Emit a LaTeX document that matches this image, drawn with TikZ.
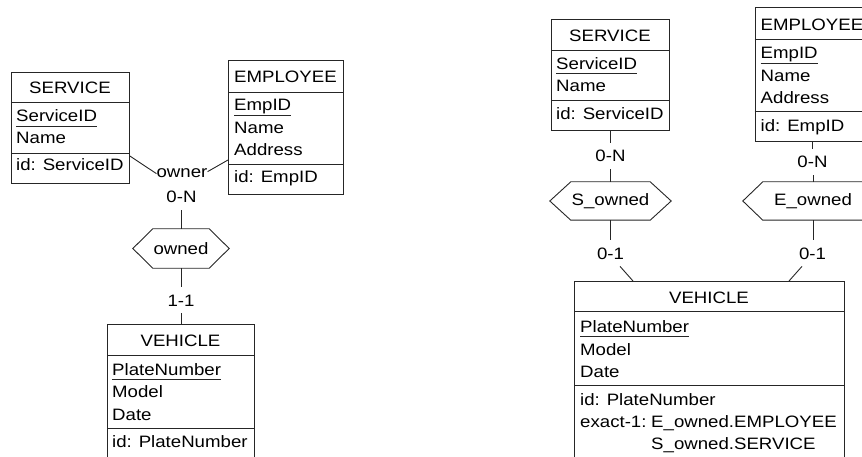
\documentclass[tikz,border=0pt]{standalone}
\usepackage{fontspec}
\setmainfont{Liberation Sans}[FakeStretch=1.13]
\usetikzlibrary{calc}

\tikzset{
  er/.style={line width=0.9pt, draw=black!85},
  box/.style={er, rectangle, inner sep=0pt, anchor=north west},
  ttl/.style={anchor=base, inner sep=0pt},
  att/.style={anchor=base west, inner sep=0pt},
  card/.style={anchor=base, inner xsep=0pt, inner ysep=7pt},
  rel/.style={inner sep=0pt, minimum height=38pt},
  every node/.append style={font=\fontsize{16.5pt}{20pt}\selectfont, text=black},
}

% hexagonal relationship outline around a node, #2 = depth of the side points
\newcommand\hexof[2]{\draw[er] (#1.north west) -- (#1.north east) -- ([xshift=#2]#1.east)
  -- (#1.south east) -- (#1.south west) -- ([xshift=-#2]#1.west) -- cycle;}
% identifier underline below a text node
\newcommand\keyline[1]{\draw[er] ([yshift=-4pt]#1.base west) -- ([yshift=-4pt]#1.base east);}
% horizontal compartment line inside an entity box, #2 = offset from its top
\newcommand\compline[2]{\draw[er] ($(#1.north west)+(0,#2)$) -- ($(#1.north east)+(0,#2)$);}

\begin{document}
\begin{tikzpicture}[x=1pt, y=-1pt]
\useasboundingbox (0,0) rectangle (862,457);
\clip (0,0) rectangle (862,457);

% ---------------- left schema: one multi-entity role ----------------
% SERVICE
\node[box, minimum width=118pt, minimum height=111pt] (svcL) at (11,72) {};
\compline{svcL}{30}
\compline{svcL}{81}
\node[ttl] (svcLt) at (70,94) {SERVICE};
\node[att] (svcLa) at (16,122) {ServiceID};
\keyline{svcLa}
\node[att] (svcLb) at (16,144) {Name};
\node[att] (svcLc) at (16,171) {id: ServiceID};

% EMPLOYEE
\node[box, minimum width=115pt, minimum height=134pt] (empL) at (228,60) {};
\compline{empL}{32}
\compline{empL}{104}
\node[ttl] (empLt) at (285.5,83) {EMPLOYEE};
\node[att] (empLa) at (234,111) {EmpID};
\keyline{empLa}
\node[att] (empLb) at (234,133.5) {Name};
\node[att] (empLc) at (234,156) {Address};
\node[att] (empLd) at (234,183) {id: EmpID};

% VEHICLE
\node[box, minimum width=147pt, minimum height=140pt] (vehL) at (107,324) {};
\compline{vehL}{31}
\compline{vehL}{104}
\node[ttl] (vehLt) at (180.5,346) {VEHICLE};
\node[att] (vehLa) at (112,375) {PlateNumber};
\keyline{vehLa}
\node[att] (vehLb) at (112,397.5) {Model};
\node[att] (vehLc) at (112,420) {Date};
\node[att] (vehLd) at (112,447) {id: PlateNumber};

% relationship owned
\node[rel, minimum width=56pt, minimum height=39pt] (owned) at (181,248.5) {owned};
\hexof{owned}{20pt}

% role "owner" taken by SERVICE or EMPLOYEE
\node[anchor=base, inner sep=0pt] (owner) at (182,178) {owner};
\node[card] (ownN) at (181.5,203) {0-N};
\node[card] (own11) at (181,306) {1-1};
\draw[er] ($(svcL.north east)+(0,84)$) -- (owner.west);
\draw[er] ($(empL.north west)+(0,100)$) -- ([yshift=2pt]owner.east);
\draw[er] (ownN.south -| owned.north) -- (owned.north);
\draw[er] (owned.south) -- (own11.north -| owned.south);
\draw[er] (own11.south -| vehL.north) -- (vehL.north);

% ---------------- right schema: two roles with exact-1 ----------------
% SERVICE
\node[box, minimum width=118pt, minimum height=111pt] (svcR) at (551,19) {};
\compline{svcR}{31}
\compline{svcR}{81}
\node[ttl] (svcRt) at (610,42) {SERVICE};
\node[att] (svcRa) at (556,69.5) {ServiceID};
\keyline{svcRa}
\node[att] (svcRb) at (556,92) {Name};
\node[att] (svcRc) at (556,119.5) {id: ServiceID};

% EMPLOYEE
\node[box, minimum width=115pt, minimum height=134pt] (empR) at (754.5,7.5) {};
\compline{empR}{32}
\compline{empR}{104}
\node[ttl] (empRt) at (812,30.5) {EMPLOYEE};
\node[att] (empRa) at (760.5,59) {EmpID};
\keyline{empRa}
\node[att] (empRb) at (760.5,81.5) {Name};
\node[att] (empRc) at (760.5,104) {Address};
\node[att] (empRd) at (760.5,131.5) {id: EmpID};

% VEHICLE
\node[box, minimum width=270pt, minimum height=185pt] (vehR) at (574,281) {};
\compline{vehR}{30.5}
\compline{vehR}{104}
\node[ttl] (vehRt) at (709,303) {VEHICLE};
\node[att] (vehRa) at (580,332.5) {PlateNumber};
\keyline{vehRa}
\node[att] (vehRb) at (580,355) {Model};
\node[att] (vehRc) at (580,377.5) {Date};
\node[att] (vehRd) at (580,405.5) {id: PlateNumber};
\node[att] (vehRe) at (580,427.5) {exact-1:};
\node[att] (vehRf) at (651,427.5) {E\_owned.EMPLOYEE};
\node[att] (vehRg) at (651,449) {S\_owned.SERVICE};

% relationships S_owned and E_owned
\node[rel, minimum width=79pt] (sOwn) at (610.5,201) {S\_owned};
\hexof{sOwn}{21pt}
\node[rel, minimum width=100pt] (eOwn) at (813,201) {E\_owned};
\hexof{eOwn}{20pt}

\node[card] (sN) at (610.5,162) {0-N};
\node[card] (eN) at (812.5,168) {0-N};
\node[card] (s01) at (610.5,259) {0-1};
\node[card] (e01) at (812.5,259) {0-1};

\draw[er] (svcR.south) -- (sN.north -| svcR.south);
\draw[er] (sN.south -| sOwn.north) -- (sOwn.north);
\draw[er] (empR.south) -- (eN.north -| empR.south);
\draw[er] (eN.south -| eOwn.north) -- (eOwn.north);
\draw[er] (sOwn.south) -- (s01.north -| sOwn.south);
\draw[er] (eOwn.south) -- (e01.north -| eOwn.south);
\draw[er] ([xshift=9.5pt]s01.south) -- ($(vehR.north west)+(59,0)$);
\draw[er] ([xshift=-10.5pt]e01.south) -- ($(vehR.north west)+(215,0)$);
\end{tikzpicture}
\end{document}
